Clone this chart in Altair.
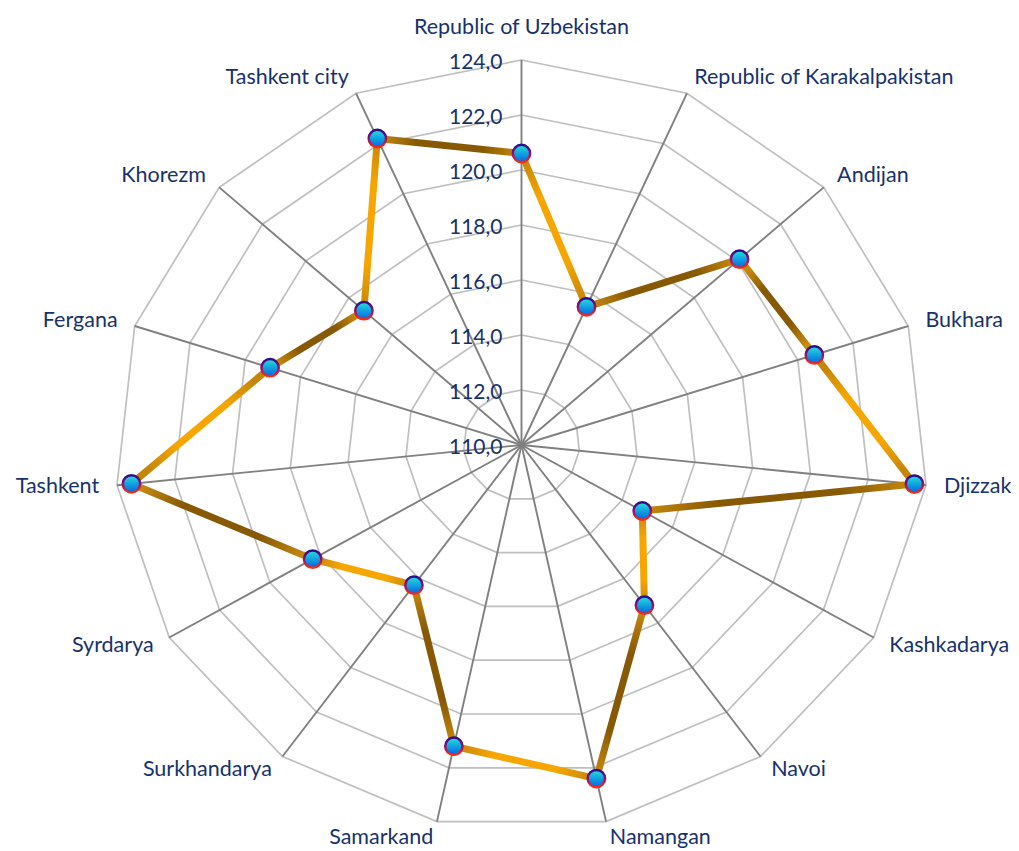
import altair as alt
import pandas as pd

# ---------------- data ----------------
CATEGORIES = [
    "Republic of Uzbekistan", "Republic of Karakalpakistan", "Andijan", "Bukhara",
    "Djizzak", "Kashkadarya", "Navoi", "Namangan", "Samarkand", "Surkhandarya",
    "Syrdarya", "Tashkent", "Fergana", "Khorezm", "Tashkent city",
]
VALUES = [120.6, 115.5, 120.1, 120.6, 123.6, 114.8, 117.2, 122.4,
          121.2, 116.3, 118.3, 123.5, 119.1, 117.3, 122.2]
TICK_VALUES = [110, 112, 114, 116, 118, 120, 122, 124]
TICK_LABELS = ["110,0", "112,0", "114,0", "116,0", "118,0", "120,0", "122,0", "124,0"]

# ---------------- layout / style ----------------
BASE, TOP = TICK_VALUES[0], TICK_VALUES[-1]
N = len(CATEGORIES)
W, H = 1003, 843
CX, CY = 513.5, 437.0          # centre of the radar, in plot pixels
PX_X, PX_Y = 29.05, 27.5       # pixels per value unit, horizontally / vertically
FONT = "Lato, 'Open Sans', sans-serif"
NAVY = "#17326B"
LABEL_SIZE = 21.5

x_scale = alt.Scale(domain=[-CX / PX_X, (W - CX) / PX_X], nice=False, zero=False)
y_scale = alt.Scale(domain=[-(H - CY) / PX_Y, CY / PX_Y], nice=False, zero=False)
ANG = f"datum.idx * 2 * PI / {N}"


def X(field):
    return alt.X(f"{field}:Q", scale=x_scale, axis=None)


def Y(field):
    return alt.Y(f"{field}:Q", scale=y_scale, axis=None)


def polar(chart, rexpr, xname="px", yname="py"):
    return chart.transform_calculate(
        **{xname: f"({rexpr}) * sin({ANG})", yname: f"({rexpr}) * cos({ANG})"}
    )


# ---------------- tables built from the arrays ----------------
pts = pd.DataFrame({"idx": range(N), "category": CATEGORIES, "value": VALUES})

seg_rows = []
for k in range(N):
    for o, j in enumerate([k, (k + 1) % N]):
        seg_rows.append({"seg": k, "ord": o, "idx": j, "value": VALUES[j]})
segs = pd.DataFrame(seg_rows)

grid_rows = []
for lv in TICK_VALUES[1:]:
    for v in range(N + 1):
        grid_rows.append({"level": lv, "ord": v, "idx": v % N})
grid = pd.DataFrame(grid_rows)

spk = pd.DataFrame({"idx": range(N)})
ticks = pd.DataFrame({"value": TICK_VALUES, "label": TICK_LABELS})

# ---------------- layers ----------------
rings = polar(alt.Chart(grid), f"datum.level - {BASE}").mark_line(
    stroke="#BFBFBF", strokeWidth=1.7
).encode(x=X("px"), y=Y("py"), detail="level:N", order="ord:Q")

spokes = polar(alt.Chart(spk), f"{TOP - BASE}", "ex", "ey").transform_calculate(
    ox="0", oy="0"
).mark_rule(stroke="#808080", strokeWidth=1.9).encode(
    x=X("ox"), y=Y("oy"), x2="ex:Q", y2="ey:Q"
)

tick_text = alt.Chart(ticks).transform_calculate(
    tx="0", ty=f"datum.value - {BASE}"
).mark_text(
    align="right", baseline="middle", dx=-19, dy=3, fontSize=21, font=FONT, color=NAVY
).encode(x=X("tx"), y=Y("ty"), text="label:N")


def radial(core, edge):
    return {
        "gradient": "radial",
        "x1": 0.5, "y1": 0.5, "r1": 0,
        "x2": 0.5, "y2": 0.5, "r2": 0.5,
        "stops": [
            {"offset": 0, "color": core},
            {"offset": 0.45, "color": core},
            {"offset": 1, "color": edge},
        ],
    }


ORANGE_TEST = "datum.seg == 0 || (datum.seg >= 3 && datum.seg % 2 == 1)"

seg_base = polar(alt.Chart(segs), f"datum.value - {BASE}")
line_orange = seg_base.transform_filter(ORANGE_TEST).mark_line(
    strokeWidth=7, stroke=radial("#F7A600", "#C4850A"), strokeCap="round"
).encode(x=X("px"), y=Y("py"), detail="seg:N", order="ord:Q")
line_dark = seg_base.transform_filter(f"!({ORANGE_TEST})").mark_line(
    strokeWidth=7, stroke=radial("#875904", "#C98B0D"), strokeCap="round"
).encode(x=X("px"), y=Y("py"), detail="seg:N", order="ord:Q")

markers = polar(alt.Chart(pts), f"datum.value - {BASE}").mark_point(
    shape="circle", filled=True, size=300, opacity=1, strokeWidth=2.5,
    fill={"gradient": "linear", "x1": 0, "y1": 0, "x2": 0, "y2": 1,
          "stops": [{"offset": 0, "color": "#24E0DA"}, {"offset": 1, "color": "#0064E6"}]},
    stroke={"gradient": "linear", "x1": 0, "y1": 0, "x2": 0, "y2": 1,
            "stops": [{"offset": 0, "color": "#2A0C8C"}, {"offset": 0.5, "color": "#9A0C70"},
                      {"offset": 1, "color": "#FF2A14"}]},
).encode(x=X("px"), y=Y("py"))

lab_base = polar(alt.Chart(pts), f"datum.idx == 0 ? {TOP - BASE + 1.15} : {TOP - BASE + 0.62}")
lab_right = lab_base.transform_filter("datum.idx > 0 && datum.idx < 7.5").mark_text(
    align="left", baseline="middle", fontSize=LABEL_SIZE, font=FONT, color=NAVY
).encode(x=X("px"), y=Y("py"), text="category:N")
lab_left = lab_base.transform_filter("datum.idx > 7.5").mark_text(
    align="right", baseline="middle", fontSize=LABEL_SIZE, font=FONT, color=NAVY
).encode(x=X("px"), y=Y("py"), text="category:N")
lab_top = lab_base.transform_filter("datum.idx == 0").mark_text(
    align="center", baseline="middle", fontSize=LABEL_SIZE, font=FONT, color=NAVY
).encode(x=X("px"), y=Y("py"), text="category:N")

chart = alt.layer(
    rings, spokes, tick_text, line_orange, line_dark, markers, lab_right, lab_left, lab_top
).properties(
    width=W, height=H, padding=0, autosize=alt.AutoSizeParams(type="none")
).configure_view(stroke=None)

chart.save("out.html", embed_options={"renderer": "svg", "actions": False})
